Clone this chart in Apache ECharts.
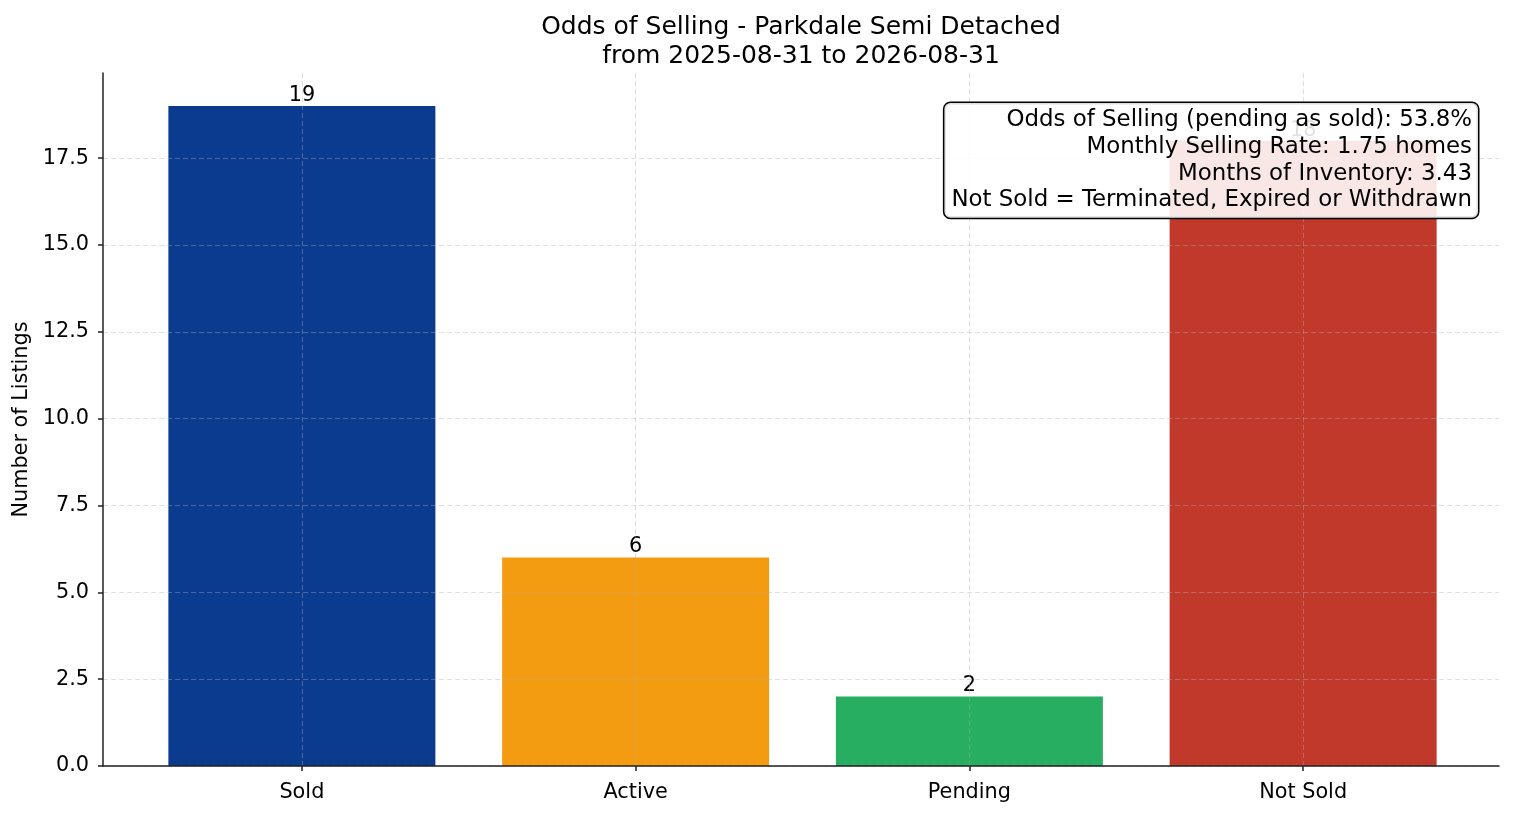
<!DOCTYPE html>
<html>
<head>
<meta charset="utf-8">
<title>Odds of Selling - Parkdale Semi Detached</title>
<script src="https://cdn.jsdelivr.net/npm/echarts@6/dist/echarts.min.js"></script>
<style>
  html, body { margin: 0; padding: 0; background: #fff; }
  #chart { width: 1514px; height: 816px; }
</style>
</head>
<body>
<div id="chart"></div>
<script>
var categories = ['Sold', 'Active', 'Pending', 'Not Sold'];
var counts = [19, 6, 2, 18];
var barColors = ['#0b3b8f', '#f39c12', '#27ae60', '#c0392b'];
var yTicks = [0, 2.5, 5, 7.5, 10, 12.5, 15, 17.5];
var yMax = 19.95;
var statLines = [
  'Odds of Selling (pending as sold): 53.8%',
  'Monthly Selling Rate: 1.75 homes',
  'Months of Inventory: 3.43',
  'Not Sold = Terminated, Expired or Withdrawn'
];

(function() {
  var font = 'DejaVu Sans';
  var ink = '#000';
  var spine = '#222';
  var gridColor = 'rgba(176,176,176,0.5)';

  var chart = echarts.init(document.getElementById('chart'), null, { renderer: 'canvas' });

  // one colour per split line; the extra tick at max stays invisible
  var splitColors = yTicks.map(function() { return gridColor; });
  splitColors.push('rgba(0,0,0,0)');

  chart.setOption({
    animation: false,
    backgroundColor: '#fff',
    textStyle: { fontFamily: font },
    title: {
      text: 'Odds of Selling - Parkdale Semi Detached\nfrom 2025-08-31 to 2026-08-31',
      left: 801,
      top: 13,
      padding: 0,
      textAlign: 'center',
      textStyle: {
        fontFamily: font,
        fontSize: 25,
        fontWeight: 'normal',
        color: ink,
        lineHeight: 29
      }
    },
    grid: [
      { left: 103, right: 15, top: 73, bottom: 50, outerBoundsMode: 'none', containLabel: false },
      { left: 135, right: 44, top: 73, bottom: 50, outerBoundsMode: 'none', containLabel: false }
    ],
    xAxis: [{
      gridIndex: 0,
      type: 'value',
      min: 0,
      max: 1,
      z: 6,
      axisLine: { show: true, lineStyle: { color: spine, width: 1.5 } },
      axisTick: { show: false },
      axisLabel: { show: false },
      splitLine: { show: false }
    }, {
      gridIndex: 1,
      type: 'category',
      data: categories,
      axisLine: { show: false },
      axisTick: { show: true, alignWithLabel: true, length: 5, lineStyle: { color: spine, width: 1.5 } },
      axisLabel: { color: ink, fontSize: 20.8, fontFamily: font, margin: 16 },
      splitLine: { show: false }
    }],
    yAxis: [{
      gridIndex: 0,
      type: 'value',
      min: 0,
      max: yMax,
      interval: 2.5,
      z: 6,
      name: 'Number of Listings',
      nameLocation: 'middle',
      nameGap: 63,
      nameRotate: 90,
      nameTextStyle: { color: ink, fontSize: 20.8, fontFamily: font },
      axisLine: { show: true, lineStyle: { color: spine, width: 1.5 } },
      axisTick: { show: true, length: 5, lineStyle: { color: spine, width: 1.5 } },
      axisLabel: {
        color: ink,
        fontSize: 20.8,
        fontFamily: font,
        margin: 14,
        showMaxLabel: false,
        formatter: function(v) { return yTicks.indexOf(v) !== -1 ? v.toFixed(1) : ''; }
      },
      splitLine: { show: true, lineStyle: { color: splitColors, type: [5, 3], width: 0.8 } }
    }, {
      gridIndex: 1,
      type: 'value',
      min: 0,
      max: yMax,
      show: false,
      splitLine: { show: false }
    }],
    series: [{
      type: 'bar',
      xAxisIndex: 1,
      yAxisIndex: 1,
      barWidth: '80%',
      data: counts.map(function(v, i) {
        return { value: v, itemStyle: { color: barColors[i] } };
      }),
      label: {
        show: true,
        position: 'top',
        distance: 0,
        color: ink,
        fontSize: 20.8,
        fontFamily: font
      },
      markLine: {
        silent: true,
        symbol: 'none',
        z: 5,
        label: { show: false },
        lineStyle: { color: gridColor, type: [5, 3], width: 0.8 },
        data: categories.map(function(c) { return { xAxis: c }; })
      }
    }],
    graphic: [{
      type: 'text',
      z: 100,
      style: {
        x: 1478,
        y: 103,
        text: statLines.join('\n'),
        align: 'right',
        verticalAlign: 'top',
        font: '22.9px "DejaVu Sans"',
        lineHeight: 26.7,
        fill: ink,
        backgroundColor: 'rgba(255,255,255,0.88)',
        borderColor: '#000',
        borderWidth: 1.5,
        borderRadius: 6,
        padding: [4, 6, 4, 7]
      }
    }]
  });

  window.addEventListener('resize', function() { chart.resize(); });
})();
</script>
</body>
</html>
